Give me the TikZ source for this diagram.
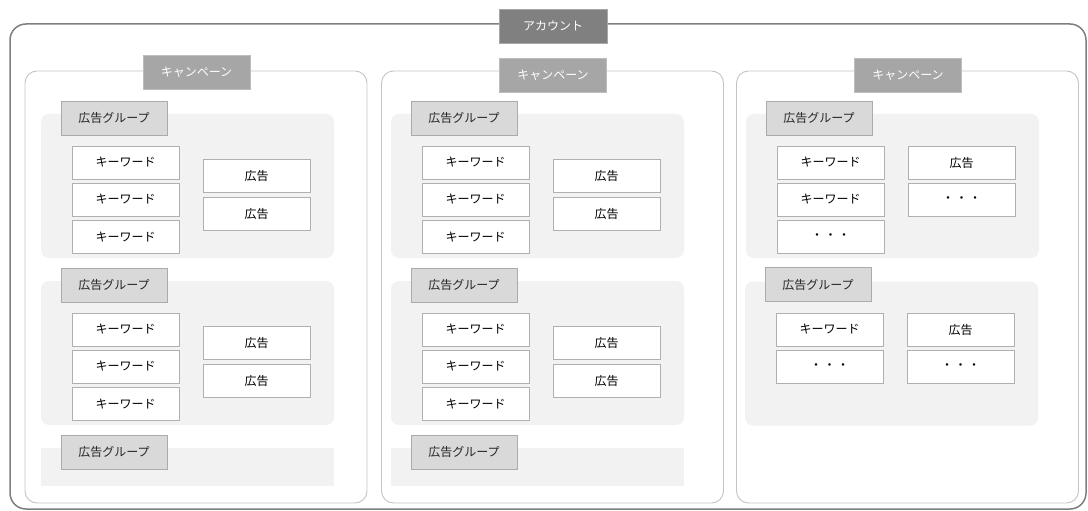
\documentclass[tikz,border=0pt]{standalone}
\usepackage{fontspec}
\setmainfont{Noto Sans CJK JP}
\definecolor{outerline}{HTML}{7F7F7F}
\definecolor{campline}{HTML}{C4C4C4}
\definecolor{acctfill}{HTML}{808080}
\definecolor{acctline}{HTML}{A8A8A8}
\definecolor{campfill}{HTML}{A6A6A6}
\definecolor{campedge}{HTML}{BDBDBD}
\definecolor{grpfill}{HTML}{F2F2F2}
\definecolor{grplblfill}{HTML}{D9D9D9}
\definecolor{grplblline}{HTML}{ABABAB}
\definecolor{boxline}{HTML}{B0B0B0}
\tikzset{
  txt/.style={font=\fontsize{12}{14}\selectfont, inner sep=0pt},
  acctlbl/.style={txt, draw=acctline, fill=acctfill, text=white, line width=0.8pt, minimum width=108pt, minimum height=34pt},
  camplbl/.style={txt, draw=campedge, fill=campfill, text=white, line width=0.6pt, minimum width=107pt, minimum height=34pt},
  grplbl/.style={txt, draw=grplblline, fill=grplblfill, text=black!85, line width=0.8pt, minimum width=106pt, minimum height=34pt},
  itembox/.style={txt, draw=boxline, fill=white, text=black, line width=0.9pt, minimum width=107pt, minimum height=33pt},
  region/.style={fill=grpfill, draw=none, rounded corners=8pt, inner sep=0pt, minimum width=293pt, minimum height=144pt},
  flatregion/.style={fill=grpfill, draw=none, inner sep=0pt, minimum width=293pt, minimum height=38pt},
  campbox/.style={draw=campline, fill=white, line width=0.9pt, rounded corners=12pt, inner sep=0pt, minimum width=342pt, minimum height=432pt},
  acctbox/.style={draw=outerline, line width=1.5pt, rounded corners=16pt, inner sep=0pt, minimum width=1076pt, minimum height=485pt}
}
\newcommand{\dotsjp}{・\hspace{1.5pt}・\hspace{1.5pt}・}
\begin{document}
\begin{tikzpicture}[x=1pt,y=-1pt]
\useasboundingbox (0,0) rectangle (1088,511);
% account
\node[acctbox] (acct) at (548,266.5) {};
% campaigns
\node[campbox] (camp1) at (196,287) {};
\node[campbox] (camp2) at (552.5,287) {};
\node[campbox] (camp3) at (907.5,287) {};
\node[acctlbl] (acctlabel) at (553,26) {アカウント};
\node[camplbl] (camp1label) at (196.5,72) {キャンペーン};
\node[camplbl] (camp2label) at (553,75) {キャンペーン};
\node[camplbl] (camp3label) at (908,75) {キャンペーン};
% campaigns 1 and 2: three ad groups
\foreach \c/\dx in {1/0,2/350}{
  \foreach \g/\dy in {1/0,2/167}{
    \node[region] (c\c g\g) at (187.5+\dx,186+\dy) {};
    \node[grplbl] (c\c g\g label) at (114+\dx,118+\dy) {広告グループ};
    \node[itembox] (c\c g\g kw1) at (125.5+\dx,162.5+\dy) {キーワード};
    \node[itembox] (c\c g\g kw2) at (125.5+\dx,199.5+\dy) {キーワード};
    \node[itembox] (c\c g\g kw3) at (125.5+\dx,237+\dy) {キーワード};
    \node[itembox] (c\c g\g ad1) at (256.5+\dx,175.5+\dy) {広告};
    \node[itembox] (c\c g\g ad2) at (256.5+\dx,213.5+\dy) {広告};
  }
  \node[flatregion] (c\c g3) at (187.5+\dx,467) {};
  \node[grplbl] (c\c g3label) at (114+\dx,452) {広告グループ};
}
% campaign 3
\node[region] (c3g1) at (892.5,186) {};
\node[grplbl] (c3g1label) at (819,118) {広告グループ};
\node[itembox] (c3g1kw1) at (830.5,162.5) {キーワード};
\node[itembox] (c3g1kw2) at (830.5,199.5) {キーワード};
\node[itembox] (c3g1kw3) at (830.5,237) {\dotsjp};
\node[itembox] (c3g1ad1) at (961.5,162.5) {広告};
\node[itembox] (c3g1ad2) at (961.5,199.5) {\dotsjp};
\node[region] (c3g2) at (891.5,353.5) {};
\node[grplbl] (c3g2label) at (818,284.5) {広告グループ};
\node[itembox] (c3g2kw1) at (829.5,329.5) {キーワード};
\node[itembox] (c3g2kw2) at (829.5,366.5) {\dotsjp};
\node[itembox] (c3g2ad1) at (960.5,329.5) {広告};
\node[itembox] (c3g2ad2) at (960.5,366.5) {\dotsjp};
\end{tikzpicture}
\end{document}
